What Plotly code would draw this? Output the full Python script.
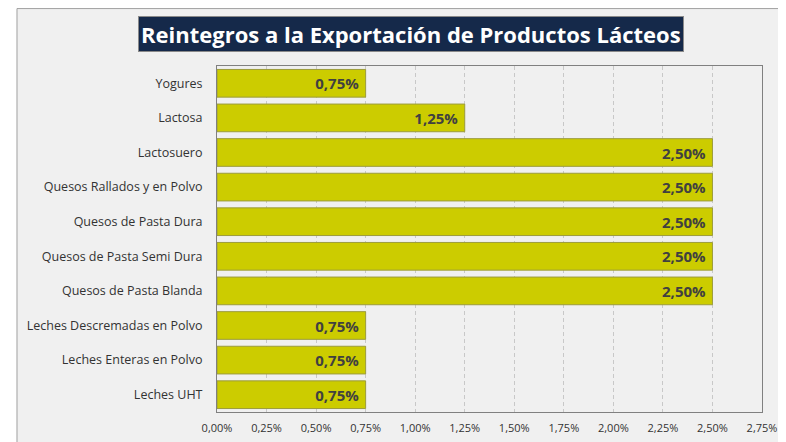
import plotly.graph_objects as go

productos = [
    "Yogures",
    "Lactosa",
    "Lactosuero",
    "Quesos Rallados y en Polvo",
    "Quesos de Pasta Dura",
    "Quesos de Pasta Semi Dura",
    "Quesos de Pasta Blanda",
    "Leches Descremadas en Polvo",
    "Leches Enteras en Polvo",
    "Leches UHT",
]
reintegros = [0.0075, 0.0125, 0.025, 0.025, 0.025, 0.025, 0.025, 0.0075, 0.0075, 0.0075]
tick_vals = [i * 0.0025 for i in range(12)]

fig = go.Figure()

fig.add_trace(go.Bar(
    x=reintegros,
    y=productos,
    orientation="h",
    marker=dict(color="#cccc00", line=dict(color="#9c9c3c", width=1)),
    texttemplate="%{x:.2%}\u00a0",
    textposition="inside",
    insidetextanchor="end",
    textfont=dict(family="Open Sans", size=15, color="#404040", weight="bold"),
    hoverinfo="skip",
))

# la página html deja 8px de margen, por eso 778x434
fig.update_layout(
    width=778, height=434,
    margin=dict(l=209, r=24, t=58, b=30, autoexpand=False),
    paper_bgcolor="white",
    plot_bgcolor="white",
    separators=",.",
    bargap=0.2,
    showlegend=False,
    font=dict(family="Open Sans", color="#333333"),
)

fig.update_xaxes(
    range=[0, 0.0275],
    tickvals=tick_vals,
    tickformat=".2%",
    tickfont=dict(size=11, color="#333333"),
    showgrid=True, gridcolor="#c8c8c8", griddash="4px,3px", gridwidth=1,
    showline=True, linecolor="#808080", mirror=True,
    zeroline=False, automargin=False,
    ticks="", ticklen=0, ticklabelstandoff=6,
)
fig.update_yaxes(
    autorange="reversed",
    tickfont=dict(size=12.5, color="#333333"),
    showline=True, linecolor="#808080", mirror=True,
    ticks="", automargin=False, ticklabelstandoff=11,
)

# fondo gris del área del gráfico con su marco
fig.add_shape(type="rect", xref="paper", yref="paper",
              x0=-0.367, x1=1.2, y0=-0.2, y1=1.166,
              fillcolor="#f0f0f0", line=dict(color="#a0a0a0", width=1),
              layer="below")

fig.add_annotation(
    text="Reintegros a la Exportación de Productos Lácteos",
    xref="paper", yref="paper", x=0.356, y=1.04, xanchor="center", yanchor="bottom",
    showarrow=False,
    font=dict(family="Open Sans", size=22, color="white", weight="bold"),
    bgcolor="#15294a", bordercolor="#8a8a8a", borderwidth=1, borderpad=2,
)

fig.write_html("out.html")
